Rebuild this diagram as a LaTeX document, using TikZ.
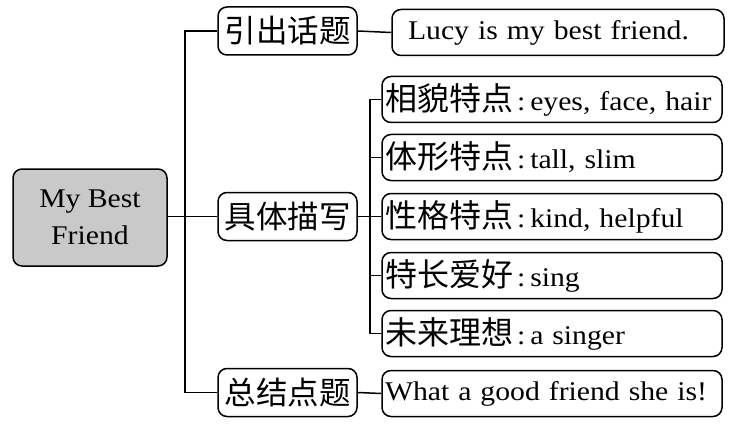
\documentclass[tikz,border=0pt]{standalone}
\usepackage{fontspec}
\setmainfont{Liberation Serif}[FakeStretch=1.1]
\newfontfamily\cjk{Noto Sans CJK SC}
\begin{document}
\begin{tikzpicture}[x=1pt,y=-1pt,
  lw/.style={line width=1.5pt},
  mainbox/.style={draw, lw, rounded corners=9pt, fill=gray!42, minimum width=154pt, minimum height=97pt, align=center, inner sep=0pt, font=\fontsize{27}{37}\selectfont},
  catbox/.style={draw, lw, rounded corners=9pt, minimum width=139pt, minimum height=48pt, inner sep=0pt, font=\fontsize{31.5}{32}\cjk},
  detbox/.style={draw, lw, rounded corners=9pt, minimum height=46pt, inner xsep=3pt, inner ysep=0pt, text width=334pt, align=left, font=\fontsize{27}{30}\selectfont},
  conn/.style={lw}]
\useasboundingbox (0,0) rectangle (736,425);
\newcommand{\cj}[1]{{\fontsize{32}{30}\cjk #1}\kern4pt:\kern5pt}
\node[mainbox] (main) at (90,217.5) {My Best\\Friend};
\node[catbox] (c1) at (287.5,31) {引出话题};
\node[catbox] (c2) at (287.5,216.5) {具体描写};
\node[catbox] (c3) at (287.5,392.5) {总结点题};
\node[detbox, text width=300pt, inner xsep=16pt] (d0) at (558,32.5) {Lucy is my best friend.};
\node[detbox] (d1) at (552,99.5) {\cj{相貌特点}eyes, face, hair};
\node[detbox] (d2) at (552,157.5) {\cj{体形特点}tall, slim};
\node[detbox] (d3) at (552,216.5) {\cj{性格特点}kind, helpful};
\node[detbox] (d4) at (552,275.5) {\cj{特长爱好}sing};
\node[detbox] (d5) at (552,333.5) {\cj{未来理想}a singer};
\node[detbox] (d6) at (552,393.5) {What a good friend she is!};
\coordinate (tx) at (185,0);
\coordinate (sx) at (370,0);
\draw[conn] (main.east |- c2.west) -- (c2.west);
\draw[conn] (c1.west) -- (c1.west -| tx) -- (c3.west -| tx) -- (c3.west);
\draw[conn] (c1.east) -- (d0.west);
\draw[conn] (c3.east) -- (d6.west);
\draw[conn] (c2.east) -- (c2.east -| sx);
\draw[conn] (d1.west) -- (d1.west -| sx) -- (d5.west -| sx) -- (d5.west);
\draw[conn] (d2.west) -- (d2.west -| sx);
\draw[conn] (d3.west) -- (d3.west -| sx);
\draw[conn] (d4.west) -- (d4.west -| sx);
\end{tikzpicture}
\end{document}
